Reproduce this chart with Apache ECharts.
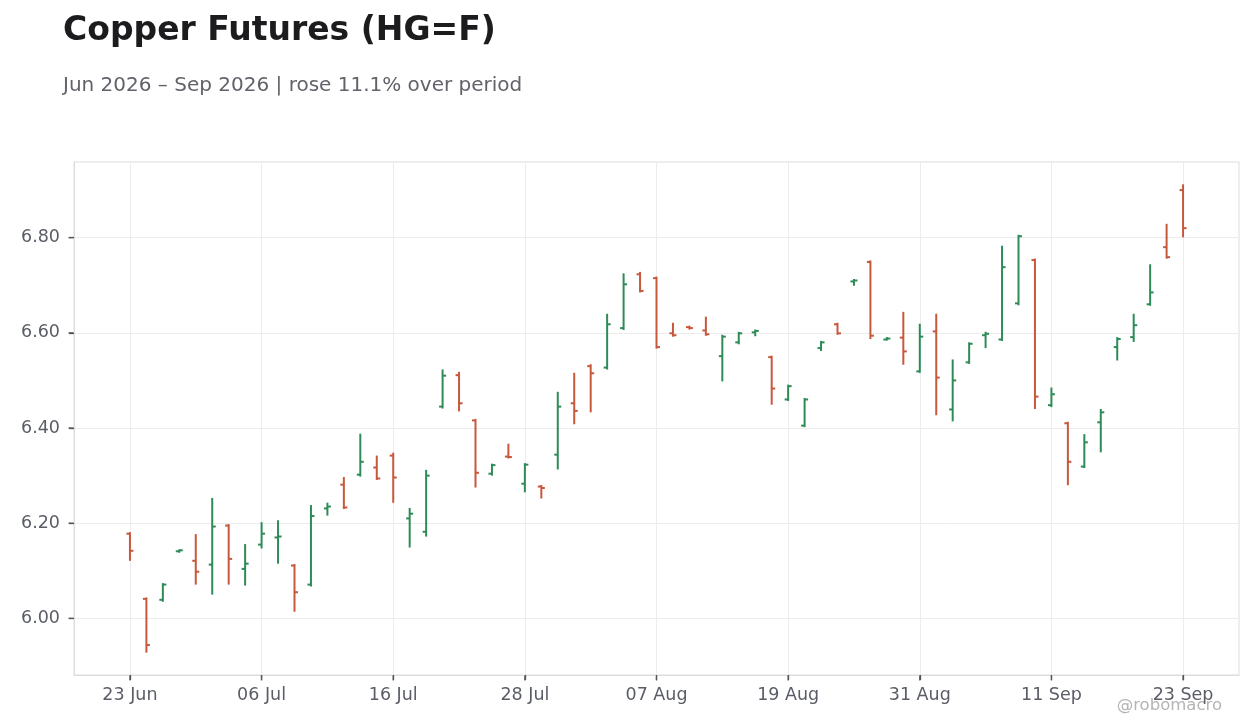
<!DOCTYPE html>
<html>
<head>
<meta charset="utf-8">
<script src="https://cdn.jsdelivr.net/npm/echarts@6/dist/echarts.min.js"></script>
<style>
  html, body { margin: 0; padding: 0; background: #ffffff; }
  #chart { width: 1260px; height: 728px; }
</style>
</head>
<body>
<div id="chart"></div>
<script>
// Trading days (index on x axis)
const dates = [
  "2026-06-23","2026-06-24","2026-06-25","2026-06-26","2026-06-29","2026-06-30",
  "2026-07-01","2026-07-02","2026-07-06","2026-07-07","2026-07-08","2026-07-09","2026-07-10",
  "2026-07-13","2026-07-14","2026-07-15","2026-07-16","2026-07-17","2026-07-20","2026-07-21",
  "2026-07-22","2026-07-23","2026-07-24","2026-07-27","2026-07-28","2026-07-29","2026-07-30","2026-07-31",
  "2026-08-03","2026-08-04","2026-08-05","2026-08-06","2026-08-07","2026-08-10","2026-08-11",
  "2026-08-12","2026-08-13","2026-08-14","2026-08-17","2026-08-18","2026-08-19","2026-08-20",
  "2026-08-21","2026-08-24","2026-08-25","2026-08-26","2026-08-27","2026-08-28","2026-08-31",
  "2026-09-01","2026-09-02","2026-09-03","2026-09-04","2026-09-08","2026-09-09","2026-09-10",
  "2026-09-11","2026-09-14","2026-09-15","2026-09-16","2026-09-17","2026-09-18","2026-09-21",
  "2026-09-22","2026-09-23"
];
const opens = [
  6.178,6.041,6.039,6.141,6.121,6.113,6.195,6.104,6.155,6.170,
  6.111,6.071,6.231,6.281,6.302,6.317,6.342,6.210,6.182,6.445,
  6.511,6.416,6.304,6.340,6.283,6.277,6.344,6.452,6.530,6.527,
  6.610,6.723,6.715,6.599,6.612,6.605,6.551,6.580,6.601,6.549,
  6.460,6.405,6.568,6.618,6.708,6.749,6.586,6.590,6.519,6.603,
  6.439,6.538,6.595,6.586,6.662,6.753,6.448,6.410,6.319,6.412,
  6.570,6.591,6.660,6.780,6.900
];
const highs = [
  6.179,6.042,6.072,6.143,6.175,6.251,6.196,6.154,6.200,6.204,
  6.112,6.236,6.241,6.295,6.386,6.340,6.346,6.230,6.310,6.521,
  6.516,6.417,6.323,6.365,6.324,6.278,6.474,6.514,6.532,6.638,
  6.723,6.726,6.716,6.619,6.613,6.632,6.594,6.600,6.605,6.550,
  6.489,6.461,6.581,6.619,6.711,6.750,6.589,6.642,6.617,6.638,
  6.542,6.578,6.600,6.781,6.804,6.754,6.483,6.411,6.385,6.438,
  6.589,6.638,6.742,6.827,6.910
];
const lows = [
  6.123,5.930,6.037,6.140,6.073,6.052,6.073,6.071,6.149,6.117,
  6.016,6.069,6.218,6.232,6.300,6.293,6.245,6.151,6.174,6.443,
  6.437,6.277,6.302,6.338,6.267,6.254,6.315,6.410,6.435,6.525,
  6.608,6.687,6.569,6.594,6.609,6.596,6.500,6.578,6.595,6.451,
  6.459,6.404,6.564,6.598,6.701,6.589,6.586,6.535,6.518,6.429,
  6.416,6.537,6.570,6.585,6.660,6.442,6.446,6.282,6.318,6.351,
  6.544,6.583,6.659,6.758,6.803
];
const closes = [
  6.142,5.944,6.071,6.143,6.098,6.193,6.125,6.115,6.178,6.172,
  6.055,6.215,6.235,6.233,6.329,6.294,6.296,6.220,6.300,6.510,
  6.452,6.306,6.322,6.339,6.323,6.274,6.445,6.436,6.515,6.618,
  6.702,6.688,6.570,6.595,6.610,6.597,6.592,6.599,6.604,6.483,
  6.488,6.460,6.580,6.599,6.710,6.594,6.588,6.561,6.592,6.506,
  6.500,6.577,6.598,6.738,6.803,6.466,6.471,6.329,6.370,6.433,
  6.587,6.616,6.685,6.759,6.820
];
const xTickIdx = [0, 8, 16, 24, 32, 40, 48, 56, 64];
const yTicks = [6.0, 6.2, 6.4, 6.6, 6.8];

const MONTHS = ["Jan","Feb","Mar","Apr","May","Jun","Jul","Aug","Sep","Oct","Nov","Dec"];
function fmtDate(s) {
  const p = s.split("-");
  return p[2] + " " + MONTHS[parseInt(p[1], 10) - 1];
}

const UP = "#2e8b57";
const DOWN = "#c8583c";
const TICK = "#555555";
const FONT = "'DejaVu Sans', Verdana, sans-serif";

const data = dates.map((d, i) => [i, opens[i], highs[i], lows[i], closes[i]]);

const allLow = Math.min(...lows), allHigh = Math.max(...highs);
const pad = (allHigh - allLow) * 0.05;
const yMid = (allLow + allHigh) / 2;

// tick marks drawn outside the plot box, placed through the axes' scales
// item: [x value, y value, kind] (kind 0 = x tick, 1 = y tick)
const tickData = xTickIdx.map(v => [v, yMid, 0]).concat(yTicks.map(v => [32, v, 1]));

const chart = echarts.init(document.getElementById("chart"));
chart.setOption({
  backgroundColor: "#ffffff",
  animation: false,
  title: [
    {
      text: "Copper Futures (HG=F)",
      left: 63, top: 15, padding: 0,
      textStyle: { fontFamily: FONT, fontSize: 33, fontWeight: "bold", color: "#1c1c1e" }
    },
    {
      text: "Jun 2026 \u2013 Sep 2026 | rose 11.1% over period",
      left: 63, top: 76, padding: 0,
      textStyle: { fontFamily: FONT, fontSize: 20, fontWeight: "normal", color: "#62636a" }
    }
  ],
  graphic: [
    {
      type: "text", right: 38, top: 697,
      style: { text: "@robomacro", fontFamily: FONT, fontSize: 16.5, fill: "#b4b4b4" }
    }
  ],
  grid: {
    left: 74, right: 21, top: 162, bottom: 53,
    show: true, borderColor: "#dddddd", borderWidth: 1, backgroundColor: "transparent"
  },
  xAxis: {
    type: "value",
    min: -3.4, max: 67.4,
    axisLine: { show: true, onZero: false, lineStyle: { color: "#dddddd", width: 1 } },
    axisTick: { show: true, length: 5, lineStyle: { color: TICK, width: 1.3 }, customValues: xTickIdx },
    axisLabel: {
      customValues: xTickIdx,
      formatter: v => fmtDate(dates[Math.round(v)]),
      fontFamily: FONT, fontSize: 17.5, color: "#5a5d66", margin: 11
    },
    splitLine: { show: true, lineStyle: { color: "#ececec", width: 1 } }
  },
  yAxis: {
    type: "value",
    min: allLow - pad, max: allHigh + pad,
    axisLine: { show: true, onZero: false, lineStyle: { color: "#dddddd", width: 1 } },
    axisTick: { show: true, length: 5, lineStyle: { color: TICK, width: 1.3 }, customValues: yTicks },
    axisLabel: {
      customValues: yTicks,
      formatter: v => v.toFixed(2),
      fontFamily: FONT, fontSize: 17.5, color: "#5a5d66", margin: 14
    },
    splitLine: { show: true, lineStyle: { color: "#ececec", width: 1 } }
  },
  series: [
    {
      type: "custom",
      clip: true,
      data: data,
      encode: { x: 0, y: [1, 2, 3, 4] },
      renderItem: function (params, api) {
        const x = api.value(0);
        const o = api.value(1), h = api.value(2), l = api.value(3), c = api.value(4);
        const pO = api.coord([x, o]), pH = api.coord([x, h]), pL = api.coord([x, l]), pC = api.coord([x, c]);
        const color = c >= o ? UP : DOWN;
        const w = 3.5;
        const st = { stroke: color, lineWidth: 2 };
        return {
          type: "group",
          children: [
            { type: "line", shape: { x1: pH[0], y1: pH[1] - 1, x2: pL[0], y2: pL[1] + 1 }, style: st },
            { type: "line", shape: { x1: pO[0] - w, y1: pO[1], x2: pO[0], y2: pO[1] }, style: st },
            { type: "line", shape: { x1: pC[0], y1: pC[1], x2: pC[0] + w, y2: pC[1] }, style: st }
          ]
        };
      }
    },
    {
      type: "custom",
      clip: false,
      silent: true,
      z: 10,
      data: tickData,
      encode: { x: 0, y: 1 },
      renderItem: function (params, api) {
        const cs = params.coordSys;
        const kind = api.value(2);
        const p = api.coord([api.value(0), api.value(1)]);
        const st = { stroke: TICK, lineWidth: 1.3 };
        if (kind === 0) {
          const y0 = cs.y + cs.height;
          return { type: "line", z2: 100, shape: { x1: p[0], y1: y0 + 0.5, x2: p[0], y2: y0 + 5.5 }, style: st };
        }
        return { type: "line", z2: 100, shape: { x1: cs.x - 5.5, y1: p[1], x2: cs.x - 0.5, y2: p[1] }, style: st };
      }
    }
  ]
});
</script>
</body>
</html>
